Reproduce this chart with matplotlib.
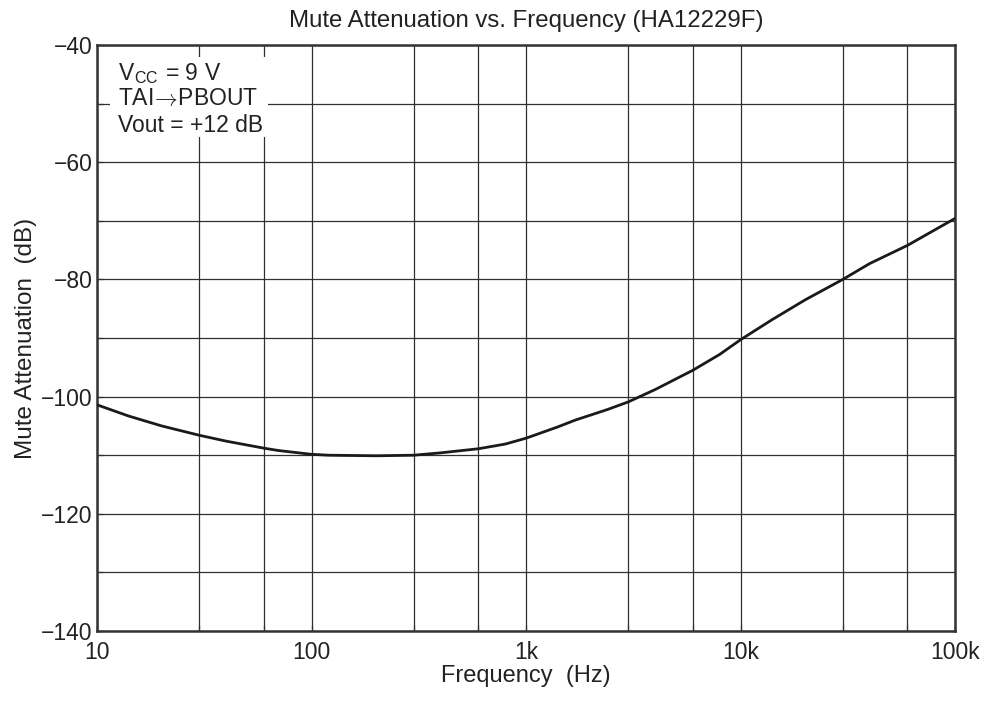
import matplotlib
matplotlib.use("Agg")
import matplotlib.pyplot as plt
from matplotlib.ticker import FixedLocator, FixedFormatter, NullFormatter
from matplotlib.patches import Rectangle

plt.rcParams['font.family'] = ['Liberation Sans', 'DejaVu Sans']
plt.rcParams['mathtext.fontset'] = 'cm'

freq_hz = [10, 14, 20, 30, 40, 60, 70, 100, 120, 200, 300, 400, 600, 800,
           1000, 1400, 1700, 2400, 3000, 4000, 6000, 8000, 10000, 14000,
           20000, 30000, 40000, 60000, 100000]
atten_db = [-101.4, -103.3, -105.0, -106.6, -107.6, -108.8, -109.2, -109.85,
            -110.0, -110.1, -110.0, -109.6, -108.9, -108.1, -107.1, -105.2,
            -104.0, -102.2, -100.9, -98.8, -95.5, -92.8, -90.3, -86.9,
            -83.5, -80.0, -77.3, -74.2, -69.6]

x_major = [10, 100, 1000, 10000, 100000]
x_major_labels = ["10", "100", "1k", "10k", "100k"]
x_minor = [30, 60, 300, 600, 3000, 6000, 30000, 60000]
y_major = [-140, -120, -100, -80, -60, -40]
y_minor = [-130, -110, -90, -70, -50]

W, H = 989, 704
fig = plt.figure(figsize=(W / 100, H / 100), dpi=100)
ax = fig.add_axes([97 / W, (H - 631) / H, (955 - 97) / W, (631 - 45) / H])

grid_color = "#303030"
text_color = "#222222"
ax.plot(freq_hz, atten_db, color="#1a1a1a", lw=2.0, zorder=3,
        solid_joinstyle="round", solid_capstyle="round")
ax.set_xscale("log")
ax.set_xlim(10, 100000)
ax.set_ylim(-140, -40)

ax.xaxis.set_major_locator(FixedLocator(x_major))
ax.xaxis.set_major_formatter(FixedFormatter(x_major_labels))
ax.xaxis.set_minor_locator(FixedLocator(x_minor))
ax.xaxis.set_minor_formatter(NullFormatter())
ax.yaxis.set_major_locator(FixedLocator(y_major))
ax.yaxis.set_minor_locator(FixedLocator(y_minor))

ax.grid(True, which="both", color=grid_color, lw=0.9, zorder=1)
ax.tick_params(which="both", direction="in", length=4, width=0.9, color=grid_color,
               labelsize=16.5, labelcolor=text_color)
ax.tick_params(axis="y", pad=3)
ax.tick_params(axis="x", pad=7)
for s in ax.spines.values():
    s.set_linewidth(1.8)
    s.set_color("#333333")

ax.set_xlabel("Frequency  (Hz)", fontsize=17, color=text_color, labelpad=1)
ax.set_ylabel("Mute Attenuation  (dB)", fontsize=17.5, color=text_color, labelpad=3)
ax.set_title("Mute Attenuation vs. Frequency (HA12229F)", fontsize=17.3,
             color=text_color, pad=13)

# white box behind annotation
ax.add_patch(Rectangle(((110 - 97) / (955 - 97), (631 - 137) / 586),
                       (268 - 110) / 858, (137 - 57) / 586,
                       transform=ax.transAxes, facecolor="white",
                       edgecolor="none", zorder=2))
txt_kw = dict(transform=ax.transAxes, fontsize=16.5, color=text_color,
              va="center", ha="left", zorder=4)
x0 = (118 - 97) / 858
ax.text(x0, (631 - 74) / 586, r"V$_\mathregular{CC}$ = 9 V", **txt_kw)
ax.text(x0, (631 - 99) / 586, r"TAI$\!\rightarrow\!$PBOUT", **txt_kw)
ax.text(x0, (631 - 125) / 586, "Vout = +12 dB", **txt_kw)

fig.savefig("out.png", dpi=100)
